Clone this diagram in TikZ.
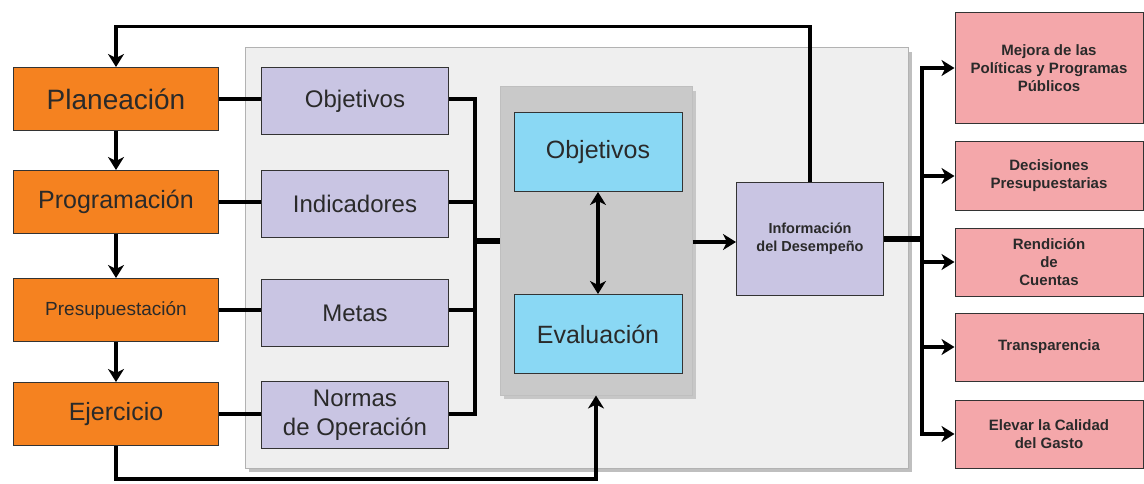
\documentclass[tikz,border=0pt]{standalone}
\usepackage{fontspec}
\setmainfont{Liberation Sans}
\usetikzlibrary{arrows.meta,calc}
\definecolor{orangeB}{HTML}{F58220}
\definecolor{purpleB}{HTML}{C9C5E3}
\definecolor{blueB}{HTML}{8AD8F4}
\definecolor{pinkB}{HTML}{F4A7AA}
\definecolor{grayB}{HTML}{C9C9C9}
\definecolor{panelB}{HTML}{EFEFEF}
\definecolor{txt}{HTML}{2A2A2A}
\tikzset{
  boxbase/.style={draw=black!80, line width=1pt, inner sep=2pt, align=center, text=txt},
  orbox/.style={boxbase, fill=orangeB, minimum width=205pt, minimum height=63pt},
  pubox/.style={boxbase, fill=purpleB, minimum width=187pt, minimum height=67pt, font=\fontsize{24}{27}\selectfont},
  blbox/.style={boxbase, fill=blueB, minimum width=168pt, minimum height=79pt, font=\fontsize{25}{28}\selectfont},
  pkbox/.style={boxbase, fill=pinkB, minimum width=188pt, font=\bfseries\fontsize{15}{18}\selectfont},
  conn/.style={line width=3.5pt, black},
  thickconn/.style={line width=6pt, black},
  arr/.style={conn, -{Stealth[length=13pt,width=16pt,inset=4pt]}},
  dblarr/.style={conn, {Stealth[length=13pt,width=16pt,inset=4pt]}-{Stealth[length=13pt,width=16pt,inset=4pt]}}
}
\begin{document}
\begin{tikzpicture}[x=1pt,y=-1pt]
\useasboundingbox (0,0) rectangle (1144,484);
\fill[white] (0,0) rectangle (1144,484);
% panel
\fill[black!25] (249,52) rectangle (912,472);
\draw[fill=panelB, draw=black!30, line width=1pt] (245,48) rectangle (908,468);
% gray centre box
\fill[black!22] (504,91) rectangle (696,399);
\node[fill=grayB, draw=black!25, line width=1pt, minimum width=192pt, minimum height=308pt] (gbox) at (596,241) {};
% orange boxes
\node[orbox, font=\fontsize{28}{30}\selectfont] (plan) at (116,99) {Planeación};
\node[orbox, font=\fontsize{25}{28}\selectfont] (prog) at (116,202) {Programación};
\node[orbox, font=\fontsize{19}{22}\selectfont] (pres) at (116,310) {Presupuestación};
\node[orbox, font=\fontsize{25}{28}\selectfont] (ejer) at (116,414) {Ejercicio};
% purple boxes
\node[pubox] (ob1) at (355,101) {Objetivos};
\node[pubox] (ind) at (355,204) {Indicadores};
\node[pubox] (met) at (355,313) {Metas};
\node[pubox, font=\fontsize{24}{29}\selectfont] (nor) at (355,415) {Normas\\de Operación};
% blue boxes
\node[blbox] (ob2) at (598,152) {Objetivos};
\node[blbox] (eval) at (598,334) {Evaluación};
% info
\node[boxbase, fill=purpleB, minimum width=147pt, minimum height=112pt, font=\bfseries\fontsize{14.5}{18}\selectfont] (info) at (810,239) {Información\\del Desempeño};
% pink boxes
\node[pkbox, minimum height=111pt] (p1) at (1049,68) {Mejora de las\\Políticas y Programas\\Públicos};
\node[pkbox, minimum height=69pt] (p2) at (1049,176) {Decisiones\\Presupuestarias};
\node[pkbox, minimum height=68pt] (p3) at (1049,262) {Rendición\\de\\Cuentas};
\node[pkbox, minimum height=68pt] (p4) at (1049,347) {Transparencia};
\node[pkbox, minimum height=68pt] (p5) at (1049,434) {Elevar la Calidad\\del Gasto};
% coordinates
\coordinate (busx) at (475,0);
\coordinate (rbus) at (922,0);
% orange chain
\draw[arr] (plan.south) -- (prog.north);
\draw[arr] (prog.south) -- (pres.north);
\draw[arr] (pres.south) -- (ejer.north);
% orange -> purple
\draw[conn] (plan.east) -- (plan.east -| ob1.west);
\draw[conn] (prog.east) -- (prog.east -| ind.west);
\draw[conn] (pres.east) -- (pres.east -| met.west);
\draw[conn] (ejer.east) -- (ejer.east -| nor.west);
% purple -> bus
\draw[conn] (plan.east -| ob1.east) -- (plan.east -| busx) -- (ejer.east -| busx) -- (ejer.east -| nor.east);
\draw[conn] (prog.east -| ind.east) -- (prog.east -| busx);
\draw[conn] (pres.east -| met.east) -- (pres.east -| busx);
\draw[thickconn] ($(gbox.west -| busx)+(-2,0)$) -- (gbox.west);
% inner double arrow
\draw[dblarr] (ob2.south) -- (eval.north);
% gray -> info
\draw[arr] (gbox.east |- info.west) ++(0,3) -- ($(info.west)+(0,3)$);
% top feedback loop
\draw[arr] (info.north) -- ++(0,-156) -| (plan.north);
% bottom feedback loop
\draw[arr] (ejer.south) -- ++(0,33) -| (gbox.south);
% info -> outputs
\draw[thickconn] (info.east) -- (info.east -| rbus);
\draw[conn] ($(p1.west -| rbus)+(0,-1.75)$) -- ($(p5.west -| rbus)+(0,1.75)$);
\draw[arr] (p1.west -| rbus) -- (p1.west);
\draw[arr] (p2.west -| rbus) -- (p2.west);
\draw[arr] (p3.west -| rbus) -- (p3.west);
\draw[arr] (p4.west -| rbus) -- (p4.west);
\draw[arr] (p5.west -| rbus) -- (p5.west);
\end{tikzpicture}
\end{document}
